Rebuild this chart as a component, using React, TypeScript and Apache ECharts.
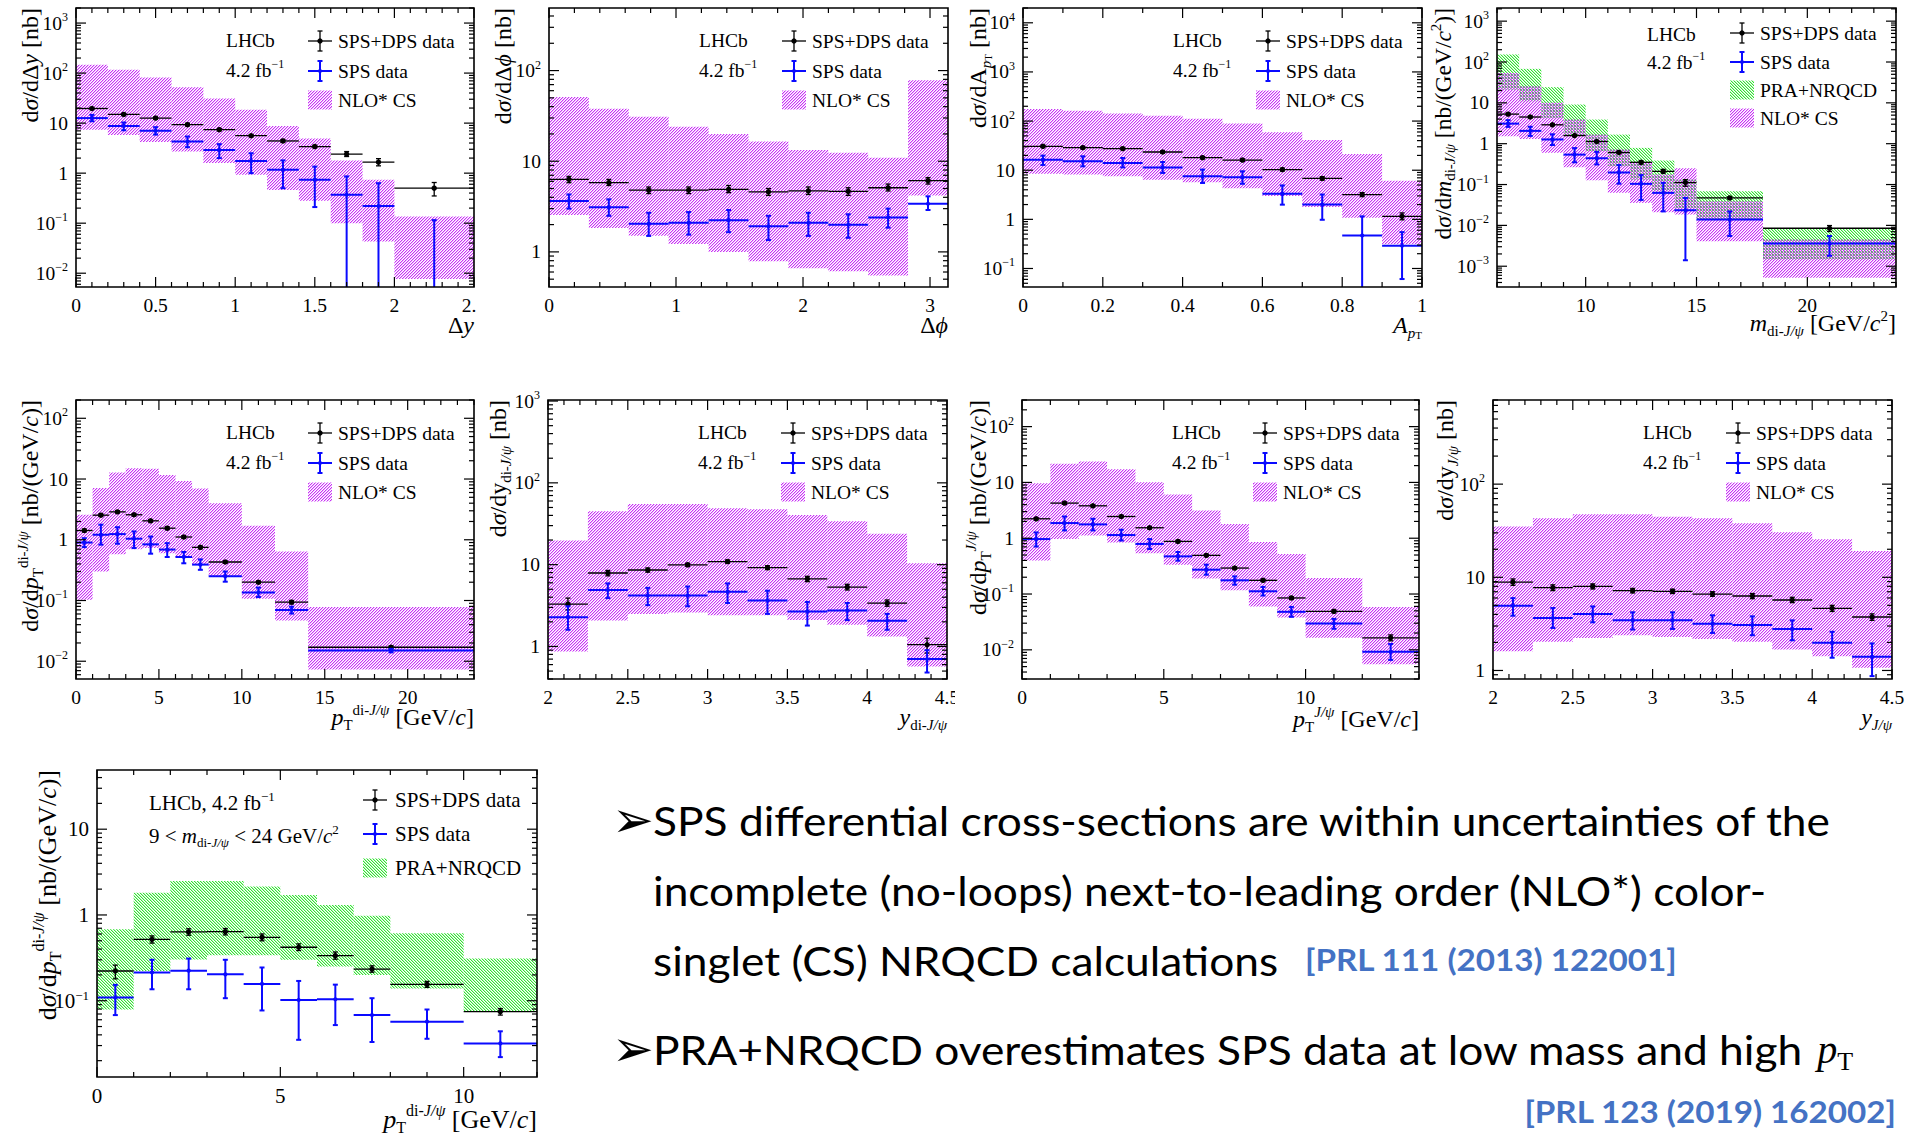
import React, { useEffect, useRef } from 'react';
import * as echarts from 'echarts';

// ================= DATA =================
// [value, errLow, errHigh] for data; [low, high] for theory bands
// Panel 1: dσ/dΔy
const dyEdges = [0, 0.2, 0.4, 0.6, 0.8, 1.0, 1.2, 1.4, 1.6, 1.8, 2.0, 2.5];
const dyTotal = [[19.6, 18.6, 20.6], [14.9, 14.1, 15.7], [12.6, 11.9, 13.3], [9.3, 8.8, 9.9], [7.4, 7.0, 7.8], [5.6, 5.3, 5.9], [4.4, 4.1, 4.7], [3.4, 3.2, 3.6], [2.4, 2.15, 2.7], [1.66, 1.4, 1.95], [0.5, 0.35, 0.65]];
const dySps = [[12.6, 10.9, 14.6], [8.8, 7.2, 10.3], [7.0, 5.9, 8.3], [4.3, 3.3, 5.4], [2.9, 2.0, 3.8], [1.74, 1.0, 2.5], [1.17, 0.5, 1.8], [0.74, 0.21, 1.35], [0.37, 0.001, 0.86], [0.22, 0.001, 0.63], [0.002, 0.001, 0.115]];
const dyNlo = [[7.4, 147], [5.8, 117], [4.2, 82], [2.7, 52], [1.6, 31], [0.93, 18.5], [0.46, 8.8], [0.28, 4.9], [0.1, 1.8], [0.043, 0.74], [0.0077, 0.136]];

// Panel 2: dσ/dΔφ
const dphiEdges = [0, 0.314, 0.628, 0.942, 1.257, 1.571, 1.885, 2.199, 2.513, 2.827, 3.1416];
const dphiTotal = [[6.3, 5.8, 6.8], [5.8, 5.4, 6.3], [4.8, 4.4, 5.2], [4.8, 4.4, 5.2], [4.9, 4.5, 5.4], [4.6, 4.2, 5.0], [4.7, 4.3, 5.2], [4.65, 4.2, 5.1], [5.1, 4.7, 5.6], [6.1, 5.6, 6.6]];
const dphiSps = [[3.65, 3.0, 4.3], [3.1, 2.5, 3.8], [2.05, 1.5, 2.7], [2.1, 1.55, 2.75], [2.24, 1.65, 2.9], [1.92, 1.35, 2.5], [2.09, 1.5, 2.7], [1.99, 1.43, 2.6], [2.4, 1.85, 3.0], [3.4, 2.9, 4.1]];
const dphiNlo = [[2.56, 51], [1.84, 38], [1.51, 31], [1.22, 24], [1.0, 20], [0.79, 16.5], [0.66, 13.3], [0.61, 12.4], [0.55, 10.9], [4.2, 78]];

// Panel 3: dσ/dA_pT
const aptEdges = [0, 0.1, 0.2, 0.3, 0.4, 0.5, 0.6, 0.7, 0.8, 0.9, 1.0];
const aptTotal = [[30.6, 29, 32.3], [28.8, 27.3, 30.3], [27.5, 26, 29], [23.5, 22.2, 24.8], [18.0, 17, 19], [16.1, 15.2, 17], [10.3, 9.6, 11], [6.8, 6.3, 7.4], [3.2, 2.9, 3.5], [1.15, 0.98, 1.35]];
const aptSps = [[16.4, 12.8, 19.8], [15.2, 12.0, 19.2], [14.0, 11.4, 17.7], [11.4, 8.8, 14.7], [7.5, 5.5, 10.3], [7.2, 5.3, 9.5], [3.3, 1.99, 4.9], [2.0, 0.98, 3.2], [0.47, 0.001, 1.15], [0.29, 0.061, 0.55]];
const aptNlo = [[8.5, 177], [8.2, 163], [7.5, 142], [6.4, 129], [5.7, 112], [4.3, 89], [3.0, 59], [1.78, 41], [1.08, 21.4], [0.31, 6.1]];

// Panel 4: dσ/dm_diJψ
const massEdges = [6, 7, 8, 9, 10, 11, 12, 13, 14, 15, 18, 24];
const massTotal = [[5.3, 5.0, 5.6], [4.5, 4.25, 4.8], [2.9, 2.75, 3.05], [1.58, 1.5, 1.66], [1.13, 1.06, 1.2], [0.61, 0.57, 0.65], [0.35, 0.32, 0.38], [0.21, 0.19, 0.235], [0.112, 0.091, 0.132], [0.047, 0.044, 0.05], [0.0085, 0.0071, 0.0099]];
const massSps = [[3.1, 2.58, 3.77], [2.06, 1.55, 2.6], [1.27, 0.93, 1.7], [0.54, 0.35, 0.78], [0.44, 0.31, 0.63], [0.197, 0.105, 0.3], [0.104, 0.042, 0.17], [0.0625, 0.022, 0.11], [0.0235, 0.0014, 0.047], [0.0139, 0.0055, 0.022], [0.0036, 0.0018, 0.0055]];
const massPra = [[21.2, 153], [11, 68], [4.3, 24.2], [1.52, 9.1], [0.655, 3.9], [0.28, 1.67], [0.132, 0.79], [0.0686, 0.387], [0.0268, 0.132], [0.0139, 0.0686], [0.00146, 0.0082]];
const massNlo = [[1.52, 54], [1.31, 25.6], [0.6, 10], [0.265, 3.9], [0.128, 1.67], [0.0625, 0.72], [0.0356, 0.34], [0.021, 0.176], [0.0184, 0.25], [0.0041, 0.039], [0.00052, 0.0045]];

// Panel 5: dσ/dpT(di-J/ψ)
const ptdiEdges = [0, 1, 2, 3, 4, 5, 6, 7, 8, 10, 12, 14, 24];
const ptdiTotal = [[1.42, 1.34, 1.5], [2.54, 2.42, 2.66], [2.88, 2.75, 3.0], [2.58, 2.46, 2.7], [2.05, 1.95, 2.15], [1.55, 1.47, 1.63], [1.11, 1.05, 1.17], [0.75, 0.71, 0.79], [0.43, 0.41, 0.45], [0.2, 0.19, 0.21], [0.094, 0.088, 0.1], [0.017, 0.016, 0.018]];
const ptdiSps = [[0.9, 0.757, 1.06], [1.21, 0.83, 1.77], [1.24, 0.86, 1.61], [1.04, 0.73, 1.37], [0.84, 0.59, 1.13], [0.69, 0.52, 0.88], [0.52, 0.41, 0.63], [0.39, 0.32, 0.475], [0.25, 0.204, 0.3], [0.136, 0.114, 0.163], [0.07, 0.061, 0.079], [0.015, 0.014, 0.016]];
const ptdiNlo = [[0.103, 2.58], [0.3, 7.1], [0.58, 12.8], [0.7, 15.1], [0.73, 14.7], [0.6, 11.7], [0.5, 9.3], [0.4, 7.0], [0.25, 4.0], [0.107, 1.7], [0.047, 0.64], [0.0073, 0.078]];

// Panel 6: dσ/dy(di-J/ψ)
const ydiEdges = [2, 2.25, 2.5, 2.75, 3, 3.25, 3.5, 3.75, 4, 4.25, 4.5];
const ydiTotal = [[3.29, 2.8, 3.9], [7.9, 7.3, 8.5], [8.6, 8.1, 9.1], [9.96, 9.5, 10.4], [10.9, 10.4, 11.4], [9.2, 8.7, 9.7], [6.7, 6.2, 7.2], [5.3, 4.9, 5.75], [3.39, 3.1, 3.7], [1.05, 0.83, 1.26]];
const ydiSps = [[2.28, 1.6, 3.1], [4.9, 3.9, 5.9], [4.2, 3.2, 5.2], [4.2, 3.1, 5.4], [4.65, 3.4, 5.9], [3.65, 2.5, 4.8], [2.68, 1.8, 3.5], [2.75, 2.1, 3.4], [2.06, 1.6, 2.5], [0.7, 0.48, 0.9]];
const ydiNlo = [[0.87, 19.7], [2.08, 45], [2.5, 55], [2.6, 55], [2.4, 49], [2.4, 47.5], [2.1, 40.5], [1.84, 34], [1.32, 23.8], [0.57, 10.4]];

// Panel 7: dσ/dpT(J/ψ)
const ptjEdges = [0, 1, 2, 3, 4, 5, 6, 7, 8, 9, 10, 12, 14];
const ptjTotal = [[2.23, 2.12, 2.34], [4.26, 4.05, 4.47], [3.81, 3.62, 4.0], [2.45, 2.33, 2.57], [1.54, 1.46, 1.62], [0.877, 0.83, 0.92], [0.493, 0.47, 0.52], [0.292, 0.277, 0.307], [0.176, 0.167, 0.185], [0.085, 0.08, 0.09], [0.049, 0.046, 0.052], [0.0164, 0.0145, 0.0185]];
const ptjSps = [[0.966, 0.71, 1.27], [1.87, 1.38, 2.45], [1.77, 1.38, 2.23], [1.14, 0.91, 1.42], [0.79, 0.64, 0.966], [0.473, 0.396, 0.566], [0.273, 0.222, 0.336], [0.176, 0.147, 0.207], [0.112, 0.094, 0.134], [0.048, 0.039, 0.0587], [0.0296, 0.0238, 0.0358], [0.0092, 0.0066, 0.0127]];
const ptjNlo = [[0.4, 9.7], [0.97, 21.5], [1.12, 23.6], [0.84, 17.3], [0.54, 10.1], [0.336, 6.1], [0.189, 3.15], [0.117, 1.79], [0.06, 0.853], [0.038, 0.52], [0.0164, 0.194], [0.0055, 0.0587]];

// Panel 8: dσ/dy(J/ψ)
const yjEdges = [2, 2.25, 2.5, 2.75, 3, 3.25, 3.5, 3.75, 4, 4.25, 4.5];
const yjTotal = [[8.87, 8.2, 9.6], [7.73, 7.2, 8.3], [7.98, 7.5, 8.5], [7.18, 6.8, 7.6], [7.07, 6.7, 7.45], [6.61, 6.25, 7.0], [6.3, 5.9, 6.7], [5.71, 5.35, 6.1], [4.65, 4.3, 5.0], [3.75, 3.45, 4.05]];
const yjSps = [[4.96, 3.87, 5.98], [3.66, 2.86, 4.68], [4.03, 3.29, 4.87], [3.45, 2.75, 4.21], [3.45, 2.79, 4.21], [3.18, 2.53, 3.91], [3.08, 2.39, 3.81], [2.79, 2.11, 3.45], [1.98, 1.37, 2.6], [1.4, 0.87, 1.95]];
const yjNlo = [[1.61, 35], [2.03, 43], [2.23, 47.4], [2.39, 47.4], [2.29, 44.8], [2.18, 43], [2.03, 38], [1.68, 30.4], [1.42, 25.6], [1.07, 19.2]];

// Panel 9: dσ/dpT(di-J/ψ), 9 < m < 24
const pt9Edges = [0, 1, 2, 3, 4, 5, 6, 7, 8, 10, 12];
const pt9Total = [[0.222, 0.18, 0.26], [0.52, 0.47, 0.57], [0.634, 0.58, 0.69], [0.639, 0.585, 0.695], [0.548, 0.5, 0.6], [0.42, 0.385, 0.46], [0.335, 0.305, 0.37], [0.234, 0.215, 0.255], [0.155, 0.143, 0.168], [0.0745, 0.068, 0.081]];
const pt9Sps = [[0.109, 0.068, 0.153], [0.214, 0.136, 0.3], [0.224, 0.136, 0.31], [0.203, 0.107, 0.3], [0.157, 0.077, 0.244], [0.102, 0.035, 0.17], [0.104, 0.052, 0.154], [0.068, 0.033, 0.107], [0.057, 0.036, 0.079], [0.0318, 0.022, 0.044]];
const pt9Pra = [[0.079, 0.68], [0.222, 1.82], [0.303, 2.49], [0.34, 2.49], [0.34, 2.14], [0.3, 1.71], [0.25, 1.31], [0.2, 0.98], [0.139, 0.61], [0.076, 0.31]];

// Text
const line1 = 'SPS differential cross-sections are within uncertainties of the';
const line2 = 'incomplete (no-loops) next-to-leading order (NLO*) color-';
const line3 = 'singlet (CS) NRQCD calculations';
const ref1 = '[PRL 111 (2013) 122001]';
const line4 = 'PRA+NRQCD overestimates SPS data at low mass and high';
const ref2 = '[PRL 123 (2019) 162002]';

// ================= STYLE =================
const SERIF = "'Liberation Serif', 'DejaVu Serif', serif";
const NLO_COLOR = [200, 50, 245];
const PRA_COLOR = [50, 225, 50];
const BLUE = '#0a0aff';

function makeHatch(rgb: number[], dir: number) {
  const s = 3;
  const c = document.createElement('canvas');
  c.width = s; c.height = s;
  const ctx = c.getContext('2d')!;
  for (let i = 0; i < s; i++) {
    const y = dir > 0 ? s - 1 - i : i;
    ctx.fillStyle = `rgba(${rgb[0]},${rgb[1]},${rgb[2]},1)`;
    ctx.fillRect(i, y, 1, 1);
    ctx.fillStyle = `rgba(${rgb[0]},${rgb[1]},${rgb[2]},0.35)`;
    ctx.fillRect((i + 1) % s, y, 1, 1);
  }
  return { image: c.toDataURL(), repeat: 'repeat', imageWidth: s, imageHeight: s };
}

function makeRich(fs: number) {
  const base = { fontFamily: SERIF, fill: '#000', color: '#000' };
  const sfs = Math.round(fs * 0.63);
  const s2 = Math.round(fs * 0.47);
  const lh = Math.round(fs * 1.25);
  return {
    r: { ...base, fontSize: fs, lineHeight: lh },
    i: { ...base, fontSize: fs, lineHeight: lh, fontStyle: 'italic' },
    sub: { ...base, fontSize: sfs, lineHeight: sfs, verticalAlign: 'bottom' },
    subi: { ...base, fontSize: sfs, lineHeight: sfs, verticalAlign: 'bottom', fontStyle: 'italic' },
    sup: { ...base, fontSize: sfs, lineHeight: sfs, verticalAlign: 'top' },
    supi: { ...base, fontSize: sfs, lineHeight: sfs, verticalAlign: 'top', fontStyle: 'italic' },
    sub2: { ...base, fontSize: s2, lineHeight: s2, verticalAlign: 'bottom' },
  };
}

const PT_DI = '{i|p}{sub|T}{sup|di-}{supi|J/ψ}';
const PT_J = '{i|p}{sub|T}{supi|J/ψ}';

const panels: any[] = [
  { L: 76, T: 8, W: 398, H: 279, xmin: 0, xmax: 2.5, xminor: 0.1, xmajor: 0.5, ymin: 0.0053, ymax: 2000,
    edges: dyEdges, total: dyTotal, sps: dySps, bands: [{ d: dyNlo, k: 'nlo' }],
    yTitle: '{r|d}{i|σ}{r|/dΔ}{i|y}{r| [nb]}', yTitleX: 30, xTitle: '{r|Δ}{i|y}', legend: 'std', fs: 19.5, tfs: 24, ytfs: 24, xTitleDy: 38 },
  { L: 549, T: 8, W: 399, H: 279, xmin: 0, xmax: 3.1416, xminor: 0.2, xmajor: 1, ymin: 0.41, ymax: 490,
    edges: dphiEdges, total: dphiTotal, sps: dphiSps, bands: [{ d: dphiNlo, k: 'nlo' }],
    yTitle: '{r|d}{i|σ}{r|/dΔ}{i|ϕ}{r| [nb]}', yTitleX: 503, xTitle: '{r|Δ}{i|ϕ}', legend: 'std', fs: 19.5, tfs: 24, ytfs: 24, xTitleDy: 38 },
  { L: 1023, T: 8, W: 399, H: 279, xmin: 0, xmax: 1, xminor: 0.1, xmajor: 0.2, ymin: 0.042, ymax: 20000,
    edges: aptEdges, total: aptTotal, sps: aptSps, bands: [{ d: aptNlo, k: 'nlo' }],
    yTitle: '{r|d}{i|σ}{r|/dA}{subi|p}{sub2|T}{r| [nb]}', yTitleX: 978, xTitle: '{i|A}{subi|p}{sub2|T}', legend: 'std', fs: 19.5, tfs: 24, ytfs: 24, xTitleDy: 38 },
  { L: 1497, T: 8, W: 399, H: 279, xmin: 6, xmax: 24, xminor: 1, xmajor: 5, ymin: 0.00031, ymax: 2100,
    edges: massEdges, total: massTotal, sps: massSps, bands: [{ d: massPra, k: 'pra' }, { d: massNlo, k: 'nlo' }],
    yTitle: '{r|d}{i|σ}{r|/d}{i|m}{sub|di-}{subi|J/ψ}{r| [nb/(GeV/}{i|c}{sup|2}{r|)]}', yTitleX: 1443,
    xTitle: '{i|m}{sub|di-}{subi|J/ψ}{r| [GeV/}{i|c}{sup|2}{r|]}', legend: 'std4', fs: 19.5, tfs: 24, ytfs: 23.5, xTitleDy: 36 },
  { L: 76, T: 400, W: 398, H: 279, xmin: 0, xmax: 24, xminor: 1, xmajor: 5, ymin: 0.0051, ymax: 200,
    edges: ptdiEdges, total: ptdiTotal, sps: ptdiSps, bands: [{ d: ptdiNlo, k: 'nlo' }],
    yTitle: '{r|d}{i|σ}{r|/d}' + PT_DI + '{r| [nb/(GeV/}{i|c}{r|)]}', yTitleX: 30,
    xTitle: PT_DI + '{r| [GeV/}{i|c}{r|]}', legend: 'std', fs: 19.5, tfs: 24, ytfs: 24, xTitleDy: 38 },
  { L: 548, T: 400, W: 399, H: 279, xmin: 2, xmax: 4.5, xminor: 0.1, xmajor: 0.5, ymin: 0.4, ymax: 1030,
    edges: ydiEdges, total: ydiTotal, sps: ydiSps, bands: [{ d: ydiNlo, k: 'nlo' }],
    yTitle: '{r|d}{i|σ}{r|/dy}{sub|di-}{subi|J/ψ}{r| [nb]}', yTitleX: 498, xTitle: '{i|y}{sub|di-}{subi|J/ψ}', legend: 'std', fs: 19.5, tfs: 24, ytfs: 24, xTitleDy: 38 },
  { L: 1022, T: 400, W: 397, H: 279, xmin: 0, xmax: 14, xminor: 1, xmajor: 5, ymin: 0.003, ymax: 300,
    edges: ptjEdges, total: ptjTotal, sps: ptjSps, bands: [{ d: ptjNlo, k: 'nlo' }],
    yTitle: '{r|d}{i|σ}{r|/d}' + PT_J + '{r| [nb/(GeV/}{i|c}{r|)]}', yTitleX: 978,
    xTitle: PT_J + '{r| [GeV/}{i|c}{r|]}', legend: 'std', fs: 19.5, tfs: 24, ytfs: 24, xTitleDy: 40 },
  { L: 1493, T: 400, W: 399, H: 279, xmin: 2, xmax: 4.5, xminor: 0.1, xmajor: 0.5, ymin: 0.81, ymax: 800,
    edges: yjEdges, total: yjTotal, sps: yjSps, bands: [{ d: yjNlo, k: 'nlo' }],
    yTitle: '{r|d}{i|σ}{r|/dy}{subi|J/ψ}{r| [nb]}', yTitleX: 1445, xTitle: '{i|y}{subi|J/ψ}', legend: 'std', fs: 19.5, tfs: 24, ytfs: 24, xTitleDy: 38 },
  { L: 97, T: 770, W: 440, H: 307, xmin: 0, xmax: 12, xminor: 1, xmajor: 5, ymin: 0.0129, ymax: 49,
    edges: pt9Edges, total: pt9Total, sps: pt9Sps, bands: [{ d: pt9Pra, k: 'pra' }],
    yTitle: '{r|d}{i|σ}{r|/d}' + PT_DI + '{r| [nb/(GeV/}{i|c}{r|)]}', yTitleX: 47,
    xTitle: PT_DI + '{r| [GeV/}{i|c}{r|]}', legend: 'p9', fs: 21, tfs: 26, ytfs: 26, xTitleDy: 42 },
];

function tickItems(p: any) {
  const items: number[][] = [[p.xmin, p.ymin, 0, 2, 0]];
  for (let k = Math.ceil(p.xmin / p.xminor - 1e-9); k * p.xminor <= p.xmax + 1e-9; k++) {
    const v = k * p.xminor;
    const r = v / p.xmajor;
    items.push([p.xmin, p.ymin, v, 0, Math.abs(r - Math.round(r)) < 1e-6 ? 1 : 0]);
  }
  for (let d = Math.floor(Math.log10(p.ymin)); d <= Math.ceil(Math.log10(p.ymax)); d++) {
    for (let m = 1; m <= 9; m++) {
      const v = m * Math.pow(10, d);
      if (v >= p.ymin && v <= p.ymax) items.push([p.xmin, p.ymin, v, 1, m === 1 ? 1 : 0]);
    }
  }
  return items;
}

function pointsSeries(i: number, edges: number[], pts: number[][], color: string, lw: number, r: number) {
  return {
    type: 'custom', xAxisIndex: i, yAxisIndex: i, z: 5, silent: true,
    data: pts.map((q, j) => [edges[j], edges[j + 1], q[0], q[1], q[2]]),
    encode: { x: [0, 1], y: [2, 3, 4] },
    renderItem: (params: any, api: any) => {
      const cs = params.coordSys;
      const top = cs.y, bot = cs.y + cs.height;
      const x0 = api.value(0), x1 = api.value(1), v = api.value(2), lo = api.value(3), hi = api.value(4);
      const xc = (x0 + x1) / 2;
      const pl = api.coord([x0, v]), pr = api.coord([x1, v]), pc = api.coord([xc, v]);
      const yl = api.coord([xc, lo])[1], yh = api.coord([xc, hi])[1];
      const clamp = (y: number) => Math.max(top, Math.min(bot, y));
      const st = { stroke: color, lineWidth: lw };
      const ch: any[] = [];
      const inside = pc[1] >= top && pc[1] <= bot;
      if (inside) ch.push({ type: 'line', shape: { x1: pl[0], y1: pc[1], x2: pr[0], y2: pc[1] }, style: st });
      ch.push({ type: 'line', shape: { x1: pc[0], y1: clamp(yl), x2: pc[0], y2: clamp(yh) }, style: st });
      if (yh >= top && yh <= bot) ch.push({ type: 'line', shape: { x1: pc[0] - 2.5, y1: yh, x2: pc[0] + 2.5, y2: yh }, style: st });
      if (yl >= top && yl <= bot) ch.push({ type: 'line', shape: { x1: pc[0] - 2.5, y1: yl, x2: pc[0] + 2.5, y2: yl }, style: st });
      if (inside) ch.push({ type: 'circle', shape: { cx: pc[0], cy: pc[1], r }, style: { fill: color } });
      return { type: 'group', children: ch };
    },
  };
}

function bandSeries(i: number, edges: number[], band: number[][], pattern: any) {
  return {
    type: 'custom', xAxisIndex: i, yAxisIndex: i, z: 2, silent: true,
    data: band.map((b, j) => [edges[j], edges[j + 1], b[0], b[1]]),
    encode: { x: [0, 1], y: [2, 3] },
    renderItem: (params: any, api: any) => {
      const cs = params.coordSys;
      const a = api.coord([api.value(0), api.value(3)]);
      const b = api.coord([api.value(1), api.value(2)]);
      const shape = echarts.graphic.clipRectByRect(
        { x: a[0], y: a[1], width: b[0] - a[0], height: b[1] - a[1] },
        { x: cs.x, y: cs.y, width: cs.width, height: cs.height }
      );
      if (!shape) return null;
      return { type: 'rect', shape, style: { fill: pattern, stroke: null } };
    },
  };
}

function ticksSeries(i: number, p: any) {
  return {
    type: 'custom', xAxisIndex: i, yAxisIndex: i, z: 10, silent: true,
    data: tickItems(p),
    encode: { x: 0, y: 1 },
    renderItem: (params: any, api: any) => {
      const cs = params.coordSys;
      const L = cs.x, T = cs.y, R = cs.x + cs.width, B = cs.y + cs.height;
      const kind = api.value(3), v = api.value(2), major = api.value(4);
      const st = { stroke: '#000', lineWidth: 1.2 };
      if (kind === 2) return { type: 'rect', shape: { x: L, y: T, width: cs.width, height: cs.height }, style: { fill: null, stroke: '#000', lineWidth: 1.6 } };
      const len = major ? 10 : 5;
      if (kind === 0) {
        const x = api.coord([v, api.value(1)])[0];
        return { type: 'group', children: [
          { type: 'line', shape: { x1: x, y1: B, x2: x, y2: B - len }, style: st },
          { type: 'line', shape: { x1: x, y1: T, x2: x, y2: T + len }, style: st },
        ] };
      }
      const y = api.coord([api.value(0), v])[1];
      return { type: 'group', children: [
        { type: 'line', shape: { x1: L, y1: y, x2: L + len, y2: y }, style: st },
        { type: 'line', shape: { x1: R, y1: y, x2: R - len, y2: y }, style: st },
      ] };
    },
  };
}

function buildOption(nloPat: any, praPat: any, measure: (t: string, f: string) => number) {
  const grid: any[] = [], xAxis: any[] = [], yAxis: any[] = [], series: any[] = [], els: any[] = [];
  const pat = (k: string) => (k === 'nlo' ? nloPat : praPat);

  panels.forEach((p, i) => {
    const fs = p.fs;
    grid.push({ left: p.L, top: p.T, width: p.W, height: p.H, show: false, containLabel: false, outerBoundsMode: 'none' });
    xAxis.push({
      type: 'value', gridIndex: i, min: p.xmin, max: p.xmax, interval: p.xminor,
      axisLine: { show: false }, axisTick: { show: false }, splitLine: { show: false },
      axisLabel: {
        margin: 8, fontFamily: SERIF, fontSize: fs, color: '#000',
        formatter: (v: number) => {
          const r = v / p.xmajor;
          return Math.abs(r - Math.round(r)) < 1e-6 ? String(+v.toFixed(3)) : '';
        },
      },
    });
    yAxis.push({
      type: 'log', logBase: 10, gridIndex: i, min: p.ymin, max: p.ymax,
      axisLine: { show: false }, axisTick: { show: false }, splitLine: { show: false },
      axisLabel: {
        margin: 8, color: '#000', fontFamily: SERIF, fontSize: fs,
        formatter: (v: number) => {
          const e = Math.log10(v);
          const r = Math.round(e);
          if (Math.abs(e - r) > 1e-6) return '';
          if (r === 0) return '{n|1}';
          if (r === 1) return '{n|10}';
          return '{n|10}{s|' + (r < 0 ? '−' : '') + Math.abs(r) + '}';
        },
        rich: {
          n: { fontSize: fs, fontFamily: SERIF, color: '#000', lineHeight: 24 },
          s: { fontSize: Math.round(fs * 0.63), fontFamily: SERIF, color: '#000', lineHeight: 12, verticalAlign: 'top' },
        },
      },
    });
    p.bands.forEach((b: any) => series.push(bandSeries(i, p.edges, b.d, pat(b.k))));
    series.push(pointsSeries(i, p.edges, p.total, '#000', 1.3, 2.7));
    series.push(pointsSeries(i, p.edges, p.sps, BLUE, 2, 2.1));
    series.push(ticksSeries(i, p));

    // axis titles
    const yrich = makeRich(p.ytfs);
    const trich = makeRich(p.tfs);
    els.push({ type: 'text', x: p.yTitleX, y: p.T, rotation: Math.PI / 2, z: 20,
      style: { text: p.yTitle, rich: yrich, align: 'right', verticalAlign: 'middle', fontFamily: SERIF, fontSize: p.ytfs, fill: '#000' } });
    els.push({ type: 'text', x: p.L + p.W, y: p.T + p.H + p.xTitleDy, z: 20,
      style: { text: p.xTitle, rich: trich, align: 'right', verticalAlign: 'middle', fontFamily: SERIF, fontSize: p.tfs, fill: '#000' } });

    // legend
    const R = p.L + p.W, T = p.T, L = p.L;
    const lrich = makeRich(fs);
    const txt = (x: number, y: number, t: string) => ({ type: 'text', x, y, z: 20,
      style: { text: t, rich: lrich, align: 'left', verticalAlign: 'middle', fontFamily: SERIF, fontSize: fs, fill: '#000' } });
    const ptSym = (cx: number, cy: number, color: string, lw: number, r: number) => {
      const st = { stroke: color, lineWidth: lw };
      return [
        { type: 'line', z: 20, shape: { x1: cx - 12, y1: cy, x2: cx + 12, y2: cy }, style: st },
        { type: 'line', z: 20, shape: { x1: cx, y1: cy - 10, x2: cx, y2: cy + 10 }, style: st },
        { type: 'line', z: 20, shape: { x1: cx - 2.5, y1: cy - 10, x2: cx + 2.5, y2: cy - 10 }, style: st },
        { type: 'line', z: 20, shape: { x1: cx - 2.5, y1: cy + 10, x2: cx + 2.5, y2: cy + 10 }, style: st },
        { type: 'circle', z: 20, shape: { cx, cy, r }, style: { fill: color } },
      ];
    };
    const box = (cx: number, cy: number, k: string) => ({ type: 'rect', z: 20, shape: { x: cx - 12, y: cy - 9.5, width: 24, height: 19 }, style: { fill: pat(k) } });
    const entries = (sx: number, tx: number, rows: number[], kinds: string[]) => {
      kinds.forEach((k, j) => {
        const y = rows[j];
        if (k === 'tot') { els.push(...ptSym(sx, y, '#000', 1.3, 2.7)); els.push(txt(tx, y, '{r|SPS+DPS data}')); }
        else if (k === 'sps') { els.push(...ptSym(sx, y, BLUE, 2, 2.1)); els.push(txt(tx, y, '{r|SPS data}')); }
        else if (k === 'pra') { els.push(box(sx, y, 'pra')); els.push(txt(tx, y, '{r|PRA+NRQCD}')); }
        else { els.push(box(sx, y, 'nlo')); els.push(txt(tx, y, '{r|NLO* CS}')); }
      });
    };
    if (p.legend === 'std') {
      els.push(txt(L + 150, T + 32, '{r|LHCb}'));
      els.push(txt(L + 150, T + 62, '{r|4.2 fb}{sup|−1}'));
      entries(R - 154, R - 136, [T + 33, T + 63, T + 92], ['tot', 'sps', 'nlo']);
    } else if (p.legend === 'std4') {
      els.push(txt(L + 150, T + 26, '{r|LHCb}'));
      els.push(txt(L + 150, T + 54, '{r|4.2 fb}{sup|−1}'));
      entries(R - 154, R - 136, [T + 25, T + 54, T + 82, T + 110], ['tot', 'sps', 'pra', 'nlo']);
    } else {
      els.push(txt(L + 52, T + 33, '{r|LHCb, 4.2 fb}{sup|−1}'));
      els.push(txt(L + 52, T + 66, '{r|9 < }{i|m}{sub|di-}{subi|J/ψ}{r| < 24 GeV/}{i|c}{sup|2}'));
      entries(R - 162, R - 142, [T + 30, T + 64, T + 98], ['tot', 'sps', 'pra']);
    }
  });

  // cut-off labels (neighbouring pictures overlap)
  els.push({ type: 'rect', z: 100, shape: { x: 477, y: 290, width: 14, height: 26 }, style: { fill: '#fff' } });
  els.push({ type: 'rect', z: 100, shape: { x: 955, y: 682, width: 14, height: 26 }, style: { fill: '#fff' } });

  // right-hand text block
  const BF = "Lato, 'Open Sans', sans-serif";
  const sx = 1179 / measure(line1, '40px Lato');
  const body = (x: number, y: number, t: string) => ({ type: 'text', x, y, scaleX: sx, z: 20,
    style: { text: t, fontFamily: BF, fontSize: 40, fill: '#000', align: 'left', verticalAlign: 'middle' } });
  const arrow = (x: number, y: number) => ({ type: 'text', x, y, z: 20,
    style: { text: '➢', fontFamily: "'DejaVu Sans', sans-serif", fontSize: 50, fill: '#000', align: 'left', verticalAlign: 'middle' } });
  const sr = 373 / measure(ref1, 'bold 30px Lato');
  const refEl = (x: number, y: number, t: string, align: string) => ({ type: 'text', x, y, scaleX: sr, z: 20,
    style: { text: t, fontFamily: BF, fontSize: 30, fontWeight: 'bold', fill: '#4472c4', align, verticalAlign: 'middle' } });
  els.push(arrow(612, 820));
  els.push(body(653, 820, line1));
  els.push(body(653, 890, line2));
  els.push(body(653, 960, line3));
  els.push(refEl(1305, 960, ref1, 'left'));
  els.push(arrow(612, 1049));
  els.push(body(653, 1049, line4));
  const pX = 653 + measure(line4, '40px Lato') * sx + 14;
  els.push({ type: 'text', x: pX, y: 1049, z: 20,
    style: { text: '{p|p}{t|T}', align: 'left', verticalAlign: 'middle',
      rich: { p: { fontFamily: SERIF, fontStyle: 'italic', fontSize: 40, lineHeight: 50, fill: '#000' },
              t: { fontFamily: SERIF, fontSize: 26, lineHeight: 26, verticalAlign: 'bottom', fill: '#000' } } } });
  els.push(refEl(1896, 1112, ref2, 'right'));

  return {
    animation: false,
    backgroundColor: '#fff',
    grid, xAxis, yAxis, series,
    graphic: { elements: els },
  };
}

export default function App() {
  const ref = useRef<HTMLDivElement>(null);
  useEffect(() => {
    const el = ref.current!;
    const chart = echarts.init(el, null, { renderer: 'svg', width: 1907, height: 1138 });
    const ctx = document.createElement('canvas').getContext('2d')!;
    const measure = (t: string, f: string) => { ctx.font = f; return ctx.measureText(t).width || 1; };
    const nloPat = makeHatch(NLO_COLOR, 1);
    const praPat = makeHatch(PRA_COLOR, -1);
    chart.setOption(buildOption(nloPat, praPat, measure));
    return () => chart.dispose();
  }, []);
  return <div ref={ref} style={{ position: 'fixed', left: 0, top: 0, width: 1907, height: 1138, background: '#fff' }} />;
}
